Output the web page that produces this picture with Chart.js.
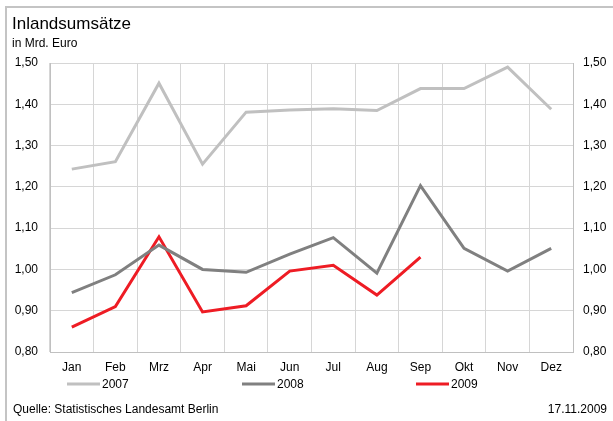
<!DOCTYPE html>
<html>
<head>
<meta charset="utf-8">
<script src="https://cdn.jsdelivr.net/npm/chart.js@4"></script>
<style>
  body { margin: 0; background: #fff; }
  canvas { display: block; }
</style>
</head>
<body>
<canvas id="chart" width="613" height="421"></canvas>
<script>
const months = ['Jan', 'Feb', 'Mrz', 'Apr', 'Mai', 'Jun', 'Jul', 'Aug', 'Sep', 'Okt', 'Nov', 'Dez'];
const values2007 = [1.243, 1.261, 1.451, 1.255, 1.381, 1.386, 1.389, 1.385, 1.438, 1.438, 1.490, 1.388];
const values2008 = [0.944, 0.987, 1.059, 1.000, 0.993, 1.037, 1.077, 0.991, 1.203, 1.051, 0.996, 1.051];
const values2009 = [0.860, 0.910, 1.079, 0.897, 0.912, 0.996, 1.010, 0.938, 1.030];
const seriesNames = ['2007', '2008', '2009'];
const seriesColors = ['#c0c0c0', '#808080', '#ee1c24'];

const FONT = "'Liberation Sans', Arial, sans-serif";
const fmt = v => v.toFixed(2).replace('.', ',');

// frame, title, legend and footer texts
const decor = {
    id: 'decor',
    afterDraw(chart) {
        const ctx = chart.ctx;
        ctx.save();
        ctx.strokeStyle = '#c4c4c4';
        ctx.lineWidth = 2;
        ctx.beginPath();
        ctx.moveTo(613, 7);
        ctx.lineTo(6, 7);
        ctx.lineTo(6, 421);
        ctx.stroke();

        ctx.fillStyle = '#000';
        ctx.textBaseline = 'alphabetic';
        ctx.font = '17px ' + FONT;
        ctx.fillText('Inlandsumsätze', 12, 29);
        ctx.font = '12px ' + FONT;
        ctx.fillText('in Mrd. Euro', 12, 47);
        ctx.fillText('Quelle: Statistisches Landesamt Berlin', 13, 413);
        ctx.textAlign = 'right';
        ctx.fillText('17.11.2009', 607, 413);

        // legend
        const legendX = [67, 242, 416];
        ctx.textAlign = 'left';
        ctx.textBaseline = 'middle';
        chart.data.datasets.forEach((ds, i) => {
            const x = legendX[i];
            ctx.strokeStyle = ds.borderColor;
            ctx.lineWidth = 3;
            ctx.beginPath();
            ctx.moveTo(x, 384);
            ctx.lineTo(x + 33, 384);
            ctx.stroke();
            ctx.fillStyle = '#000';
            ctx.fillText(ds.label, x + 35, 385);
        });
        ctx.restore();
    }
};

const yTicks = {
    stepSize: 0.1,
    color: '#000',
    font: { family: FONT, size: 12 },
    callback: v => fmt(v)
};

new Chart(document.getElementById('chart'), {
    type: 'line',
    data: {
        labels: months,
        datasets: [values2007, values2008, values2009].map((d, i) => ({
            label: seriesNames[i],
            data: d,
            borderColor: seriesColors[i],
            backgroundColor: seriesColors[i],
            borderWidth: 3,
            borderJoinStyle: 'miter',
            pointRadius: 0,
            tension: 0,
            fill: false
        }))
    },
    options: {
        responsive: false,
        animation: false,
        layout: { padding: { top: 63, left: 0, right: 0, bottom: 0 } },
        plugins: {
            legend: { display: false },
            tooltip: { enabled: false }
        },
        scales: {
            x: {
                offset: true,
                grid: { offset: true, color: '#d6d6d6', drawTicks: false },
                border: { color: '#c0c0c0' },
                ticks: { color: '#000', font: { family: FONT, size: 12 }, padding: 8, maxRotation: 0 },
                afterFit: s => { s.height = 69; }
            },
            y: {
                position: 'left',
                min: 0.8,
                max: 1.5,
                grid: { color: '#d6d6d6', drawTicks: false },
                border: { color: '#c0c0c0' },
                ticks: Object.assign({ padding: 12 }, yTicks),
                afterFit: s => { s.width = 50; }
            },
            y2: {
                position: 'right',
                min: 0.8,
                max: 1.5,
                display: true,
                grid: { display: false, drawTicks: false },
                border: { color: '#c0c0c0' },
                ticks: Object.assign({ padding: 10 }, yTicks),
                afterFit: s => { s.width = 40; }
            }
        }
    },
    plugins: [decor]
});
</script>
</body>
</html>
